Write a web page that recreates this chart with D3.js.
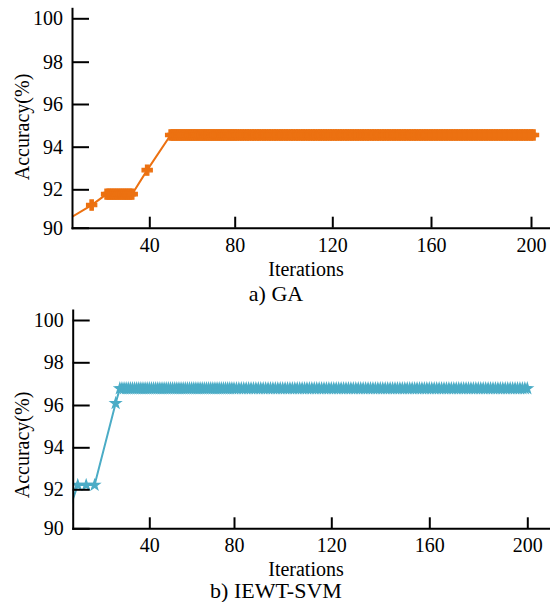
<!DOCTYPE html>
<html lang="en">
<head>
<title>Accuracy vs Iterations</title>
<meta charset="utf-8">
<script src="https://cdnjs.cloudflare.com/ajax/libs/d3/7.8.5/d3.min.js"></script>
<style>
body { margin: 0; background: #fff; }
svg text { font-family: "Liberation Serif", "Times New Roman", serif; fill: #000; }
.axis path, .axis line { stroke: #000; stroke-width: 2; }
.axis text { font-size: 20px; }
</style>
</head>
<body>
<div id='chart'></div>
<script>

// tick labels
var xTicks = [40, 80, 120, 160, 200]
var yTicks = [90, 92, 94, 96, 98, 100]

// GA: runs of iterations holding the same accuracy
var gaIterStart = [1, 13, 20, 39, 50]
var gaIterEnd   = [1, 13, 32, 39, 201]
var gaAccuracy  = [90.38, 91.18, 91.75, 92.9, 94.55]

// IEWT-SVM
var svmIterStart = [1, 6, 10, 14, 24, 26]
var svmIterEnd   = [1, 6, 10, 14, 24, 200]
var svmAccuracy  = [90.65, 92.2, 92.2, 92.2, 96.08, 96.77]

function expandRuns(starts, ends, values) {
    var pts = []
    for (var i=0; i<starts.length; i++) {
        d3.range(starts[i], ends[i] + 1).forEach(function(it) {
            pts.push({ x: it, y: values[i] })
        })
    }
    return pts
}

var svg = d3.select('#chart').append('svg')
    .attr('width', 550)
    .attr('height', 602)

// the original axes are not evenly spaced, so the scales follow the printed ticks
var panels = [
    {
        id: 'ga', caption: 'a) GA', color: '#EC7111', symbol: d3.symbolCross, size: 58,
        data: expandRuns(gaIterStart, gaIterEnd, gaAccuracy),
        xDomain: [3.8, 40, 80, 120, 160, 200, 207.6],
        xRange: [72, 149.3, 234.7, 332.3, 431, 531, 550],
        yDomain: [90, 92, 94, 96, 98, 100, 100.47],
        yRange: [227.7, 189.3, 146.7, 104, 61.7, 18.3, 8.3],
        yLabelY: 127, xLabelY: 276, captionY: 301
    },
    {
        id: 'svm', caption: 'b) IEWT-SVM', color: '#4BACC6', symbol: d3.symbolStar, size: 34,
        data: expandRuns(svmIterStart, svmIterEnd, svmAccuracy),
        xDomain: [3.6, 40, 80, 120, 160, 200, 209.3],
        xRange: [72.7, 149.3, 234, 331.3, 429.3, 527.3, 550],
        yDomain: [90, 92, 94, 96, 98, 100, 100.47],
        yRange: [528.3, 489.3, 447.3, 405, 362.3, 320, 310],
        yLabelY: 445, xLabelY: 576, captionY: 598
    }
]

function drawPanel(p) {
    var x = d3.scaleLinear().domain(p.xDomain).range(p.xRange)
    var y = d3.scaleLinear().domain(p.yDomain).range(p.yRange)
    var x0 = p.xRange[0], x1 = p.xRange[p.xRange.length - 1]
    var y0 = p.yRange[0], y1 = p.yRange[p.yRange.length - 1]

    var g = svg.append('g').attr('id', p.id)

    g.append('clipPath').attr('id', 'clip-' + p.id)
      .append('rect')
        .attr('x', x0).attr('y', y1 - 10)
        .attr('width', x1 - x0).attr('height', y0 - y1 + 10)

    var plot = g.append('g').attr('clip-path', 'url(#clip-' + p.id + ')')

    var line = d3.line()
        .x(function(d) { return x(d.x) })
        .y(function(d) { return y(d.y) })

    plot.append('path')
        .datum(p.data)
        .attr('fill', 'none')
        .attr('stroke', p.color)
        .attr('stroke-width', 2)
        .attr('d', line)

    plot.selectAll('.marker')
        .data(p.data)
        .enter().append('path')
            .attr('class', 'marker')
            .attr('transform', function(d) { return 'translate(' + x(d.x) + ',' + y(d.y) + ')' })
            .attr('d', d3.symbol().type(p.symbol).size(p.size))
            .attr('fill', p.color)
            .attr('stroke', p.color)
            .attr('stroke-width', 1.2)

    g.append('g')
        .attr('class', 'axis')
        .attr('transform', 'translate(0,' + y0 + ')')
        .call(d3.axisBottom(x).tickValues(xTicks).tickFormat(d3.format('d'))
            .tickSizeInner(-11).tickSizeOuter(0).tickPadding(10))

    g.append('g')
        .attr('class', 'axis')
        .attr('transform', 'translate(' + x0 + ',0)')
        .call(d3.axisLeft(y).tickValues(yTicks).tickFormat(d3.format('d'))
            .tickSizeInner(-17).tickSizeOuter(0).tickPadding(9))

    g.selectAll('.axis .domain').attr('stroke-linecap', 'square')

    g.append('text')
        .attr('transform', 'translate(28.5,' + p.yLabelY + ') rotate(-90)')
        .attr('text-anchor', 'middle')
        .style('font-size', '20px')
        .text('Accuracy(%)')

    g.append('text')
        .attr('x', 306).attr('y', p.xLabelY)
        .attr('text-anchor', 'middle')
        .style('font-size', '20px')
        .text('Iterations')

    g.append('text')
        .attr('x', 276).attr('y', p.captionY)
        .attr('text-anchor', 'middle')
        .style('font-size', '22px')
        .text(p.caption)
}

panels.forEach(drawPanel)

</script>
</body>
</html>
